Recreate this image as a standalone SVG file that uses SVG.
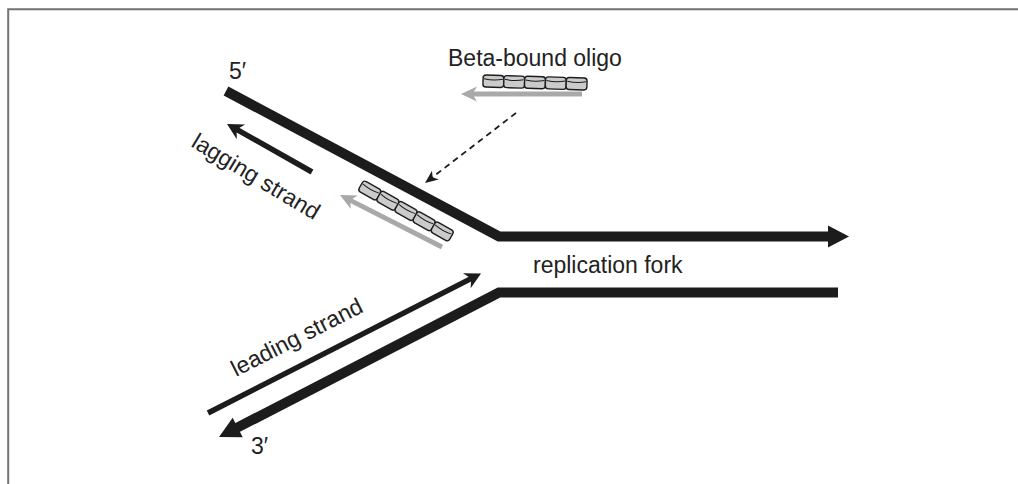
<svg xmlns="http://www.w3.org/2000/svg" width="1018" height="484" viewBox="0 0 1018 484">
<style>
.t{font-family:"Liberation Sans",Arial,sans-serif;font-size:23px;fill:#222}
.thick{fill:none;stroke:#1c1c1c;stroke-width:10;stroke-linejoin:miter;stroke-linecap:butt}
.thin{fill:none;stroke:#1c1c1c;stroke-width:5.5}
.gray{fill:none;stroke:#a9a9a9;stroke-width:4.8}
.dash{fill:none;stroke:#1c1c1c;stroke-width:1.8;stroke-dasharray:6 4.5}
.seg{fill:#cbcbcb;stroke:#1c1c1c;stroke-width:1.4}
.segtop{fill:none;stroke:#1c1c1c;stroke-width:1}
</style>
<defs>
<marker id="hThick" markerUnits="userSpaceOnUse" viewBox="-22 -12 23 24" markerWidth="23" markerHeight="24" refX="-20" refY="0" orient="auto">
<path d="M0,0 L-21,-11 L-21,11 Z" fill="#1c1c1c"/>
</marker>
<marker id="hThin" markerUnits="userSpaceOnUse" viewBox="-17 -10 18 20" markerWidth="18" markerHeight="20" refX="-8" refY="0" orient="auto">
<path d="M0,0 L-16,-8.5 L-11,0 L-16,8.5 Z" fill="#1c1c1c"/>
</marker>
<marker id="hGray" markerUnits="userSpaceOnUse" viewBox="-17 -9 18 18" markerWidth="18" markerHeight="18" refX="-9" refY="0" orient="auto">
<path d="M0,0 L-16,-7.5 L-11.5,0 L-16,7.5 Z" fill="#a9a9a9"/>
</marker>
<marker id="hDash" markerUnits="userSpaceOnUse" viewBox="-14 -7 15 14" markerWidth="15" markerHeight="14" refX="-6" refY="0" orient="auto">
<path d="M0,0 L-13,-5.5 L-9.5,0 L-13,5.5 Z" fill="#1c1c1c"/>
</marker>
<g id="oligo">
<rect class="seg" x="-52" y="-6" width="20.8" height="12" rx="3"/>
<rect class="seg" x="-31.2" y="-6" width="20.8" height="12" rx="3"/>
<rect class="seg" x="-10.4" y="-6" width="20.8" height="12" rx="3"/>
<rect class="seg" x="10.4" y="-6" width="20.8" height="12" rx="3"/>
<rect class="seg" x="31.2" y="-6" width="20.8" height="12" rx="3"/>
<path class="segtop" d="M-51,-2.3 Q-41.6,-0.3 -32.2,-2.3 M-30.2,-2.3 Q-20.8,-0.3 -11.4,-2.3 M-9.4,-2.3 Q0,-0.3 9.4,-2.3 M11.4,-2.3 Q20.8,-0.3 30.2,-2.3 M32.2,-2.3 Q41.6,-0.3 51,-2.3"/>
</g>
</defs>
<g id="frame">
<path d="M8.2,484 V9.2 H1018" fill="none" stroke="#737373" stroke-width="2"/>
</g>
<g id="connectors">
<path id="top-strand" class="thick" d="M226,91 L499,236.5 L829,236.5" marker-end="url(#hThick)"/>
<path id="bottom-strand" class="thick" d="M838,292.5 L499,292.5 L236.8,427.9" marker-end="url(#hThick)"/>
<path id="lagging-arrow" class="thin" d="M312,172 L234,127.9" marker-end="url(#hThin)"/>
<path id="leading-arrow" class="thin" d="M208,413 L473.9,277.1" marker-end="url(#hThin)"/>
<path id="gray-top" class="gray" d="M582,94 L470,94" marker-end="url(#hGray)"/>
<path id="gray-bottom" class="gray" d="M442,247 L348,199.1" marker-end="url(#hGray)"/>
<path id="dashed-arrow" class="dash" d="M516,113 L429.8,179.3" marker-end="url(#hDash)"/>
</g>
<g id="oligo-free">
<use href="#oligo" transform="translate(535,82.5) rotate(1.7)"/>
</g>
<g id="oligo-bound">
<use href="#oligo" transform="translate(406,211) rotate(29.5)"/>
</g>
<g id="labels">
<text class="t" x="229" y="79">5′</text>
<text class="t" x="448" y="66">Beta-bound oligo</text>
<text class="t" transform="translate(190,146) rotate(31)">lagging strand</text>
<text class="t" transform="translate(236,377) rotate(-27)">leading strand</text>
<text class="t" x="533" y="273">replication fork</text>
<text class="t" x="251" y="454">3′</text>
</g>
</svg>
